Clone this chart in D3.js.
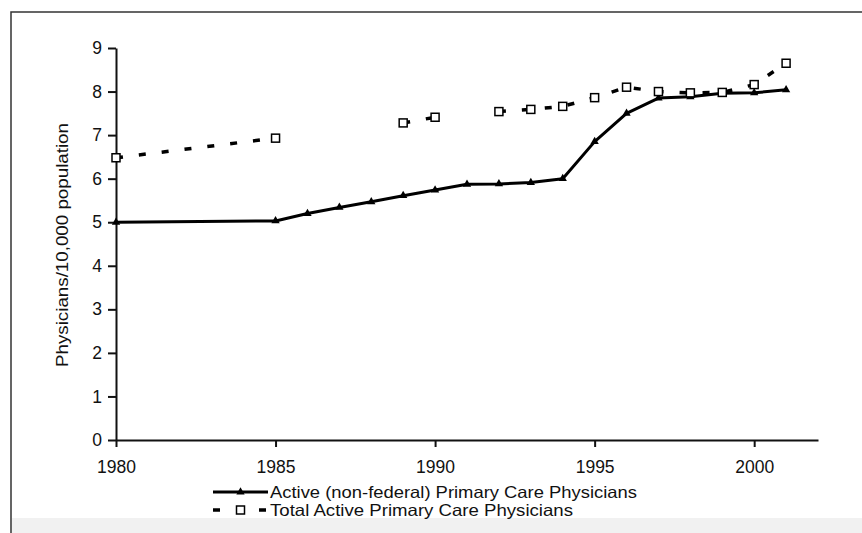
<!DOCTYPE html>
<html>
<head>
<meta charset="utf-8">
<script src="https://cdn.jsdelivr.net/npm/d3@7"></script>
<style>
  html, body { margin: 0; padding: 0; background: #fff; }
  svg text { font-family: "Liberation Sans", Arial, sans-serif; fill: #111; }
</style>
</head>
<body>
<script>
// years shared by both series (null = no value reported that year)
const years = [1980, 1985, 1986, 1987, 1988, 1989, 1990, 1991, 1992, 1993, 1994, 1995, 1996, 1997, 1998, 1999, 2000, 2001];
const activeNonFederal = [5.0, 5.03, 5.2, 5.34, 5.47, 5.61, 5.74, 5.87, 5.88, 5.91, 6.0, 6.85, 7.5, 7.85, 7.88, 7.96, 7.97, 8.04];
const totalActive = [6.48, 6.93, null, null, null, 7.28, 7.41, null, 7.54, 7.59, 7.66, 7.86, 8.1, 8.0, 7.97, 7.98, 8.16, 8.65];
const xTicks = [1980, 1985, 1990, 1995, 2000];
const yTicks = [0, 1, 2, 3, 4, 5, 6, 7, 8, 9];
const seriesNames = ["Active (non-federal) Primary Care Physicians", "Total Active Primary Care Physicians"];
const yTitle = "Physicians/10,000 population";

const width = 862, height = 533;

const svg = d3.select("body").append("svg")
    .attr("width", width)
    .attr("height", height);

// fond + cadre du scan
svg.append("rect").attr("width", width).attr("height", height).attr("fill", "#fff");
svg.append("rect").attr("x", 12).attr("y", 518).attr("width", width - 12).attr("height", 15).attr("fill", "#f1f1f1");
svg.append("path")
    .attr("d", `M11,${height} V12 H${width}`)
    .attr("fill", "none")
    .attr("stroke", "#333")
    .attr("stroke-width", 1.5);

const x = d3.scaleLinear().domain([1980, 2002]).range([116, 818]);
const y = d3.scaleLinear().domain([0, 9]).range([440, 48]);

// axes
const xAxis = svg.append("g")
    .attr("transform", `translate(0,${y(0)})`)
    .call(d3.axisBottom(x).tickValues(xTicks).tickFormat(d3.format("d")).tickSize(7).tickSizeOuter(0).tickPadding(14));
const yAxis = svg.append("g")
    .attr("transform", `translate(${x(1980)},0)`)
    .call(d3.axisLeft(y).tickValues(yTicks).tickSize(8).tickSizeOuter(0).tickPadding(6));

[xAxis, yAxis].forEach(ax => {
    ax.select(".domain").attr("stroke", "#111").attr("stroke-width", 2);
    ax.selectAll(".tick line").attr("stroke", "#111").attr("stroke-width", 2);
    ax.selectAll(".tick text").attr("font-size", 17.5).attr("fill", "#111");
});

svg.append("text")
    .attr("transform", `translate(68,245) rotate(-90)`)
    .attr("text-anchor", "middle")
    .attr("font-size", 17)
    .attr("textLength", 244)
    .attr("lengthAdjust", "spacingAndGlyphs")
    .text(yTitle);

const activeData = years.map((yr, i) => ({ year: yr, value: activeNonFederal[i] }));
const totalData = years.map((yr, i) => ({ year: yr, value: totalActive[i] }));

const line = d3.line()
    .defined(d => d.value !== null)
    .x(d => x(d.year))
    .y(d => y(d.value));

// série active : trait plein + triangles
svg.append("path")
    .datum(activeData)
    .attr("d", line)
    .attr("fill", "none")
    .attr("stroke", "#000")
    .attr("stroke-width", 3)
    .attr("stroke-linejoin", "round");

const tri = d3.symbol().type(d3.symbolTriangle).size(30);
svg.selectAll(".tri")
    .data(activeData)
    .join("path")
    .attr("class", "tri")
    .attr("d", tri)
    .attr("transform", d => `translate(${x(d.year)},${y(d.value)})`)
    .attr("fill", "#000");

// série totale : tirets + carrés creux
svg.append("path")
    .datum(totalData)
    .attr("d", line)
    .attr("fill", "none")
    .attr("stroke", "#000")
    .attr("stroke-width", 3.5)
    .attr("stroke-dasharray", "7,16");

svg.selectAll(".sq")
    .data(totalData.filter(d => d.value !== null))
    .join("rect")
    .attr("class", "sq")
    .attr("x", d => x(d.year) - 4)
    .attr("y", d => y(d.value) - 4)
    .attr("width", 8)
    .attr("height", 8)
    .attr("fill", "#fff")
    .attr("stroke", "#000")
    .attr("stroke-width", 1.5);

// légende
const legend = svg.append("g");
const lx0 = 213, lx1 = 268, rows = [492, 510];
const legendWidths = [367, 303];

legend.append("line")
    .attr("x1", lx0).attr("x2", lx1).attr("y1", rows[0]).attr("y2", rows[0])
    .attr("stroke", "#000").attr("stroke-width", 3);
legend.append("path")
    .attr("d", tri)
    .attr("transform", `translate(${(lx0 + lx1) / 2},${rows[0]})`)
    .attr("fill", "#000");

legend.append("line")
    .attr("x1", lx0).attr("x2", lx1).attr("y1", rows[1]).attr("y2", rows[1])
    .attr("stroke", "#000").attr("stroke-width", 3.5).attr("stroke-dasharray", "7,16");
legend.append("rect")
    .attr("x", (lx0 + lx1) / 2 - 4).attr("y", rows[1] - 4)
    .attr("width", 8).attr("height", 8)
    .attr("fill", "#fff").attr("stroke", "#000").attr("stroke-width", 1.5);

legend.selectAll("text")
    .data(seriesNames)
    .join("text")
    .attr("x", lx1 + 2)
    .attr("y", (d, i) => rows[i])
    .attr("dy", "0.35em")
    .attr("font-size", 16.5)
    .attr("textLength", (d, i) => legendWidths[i])
    .attr("lengthAdjust", "spacingAndGlyphs")
    .text(d => d);
</script>
</body>
</html>
